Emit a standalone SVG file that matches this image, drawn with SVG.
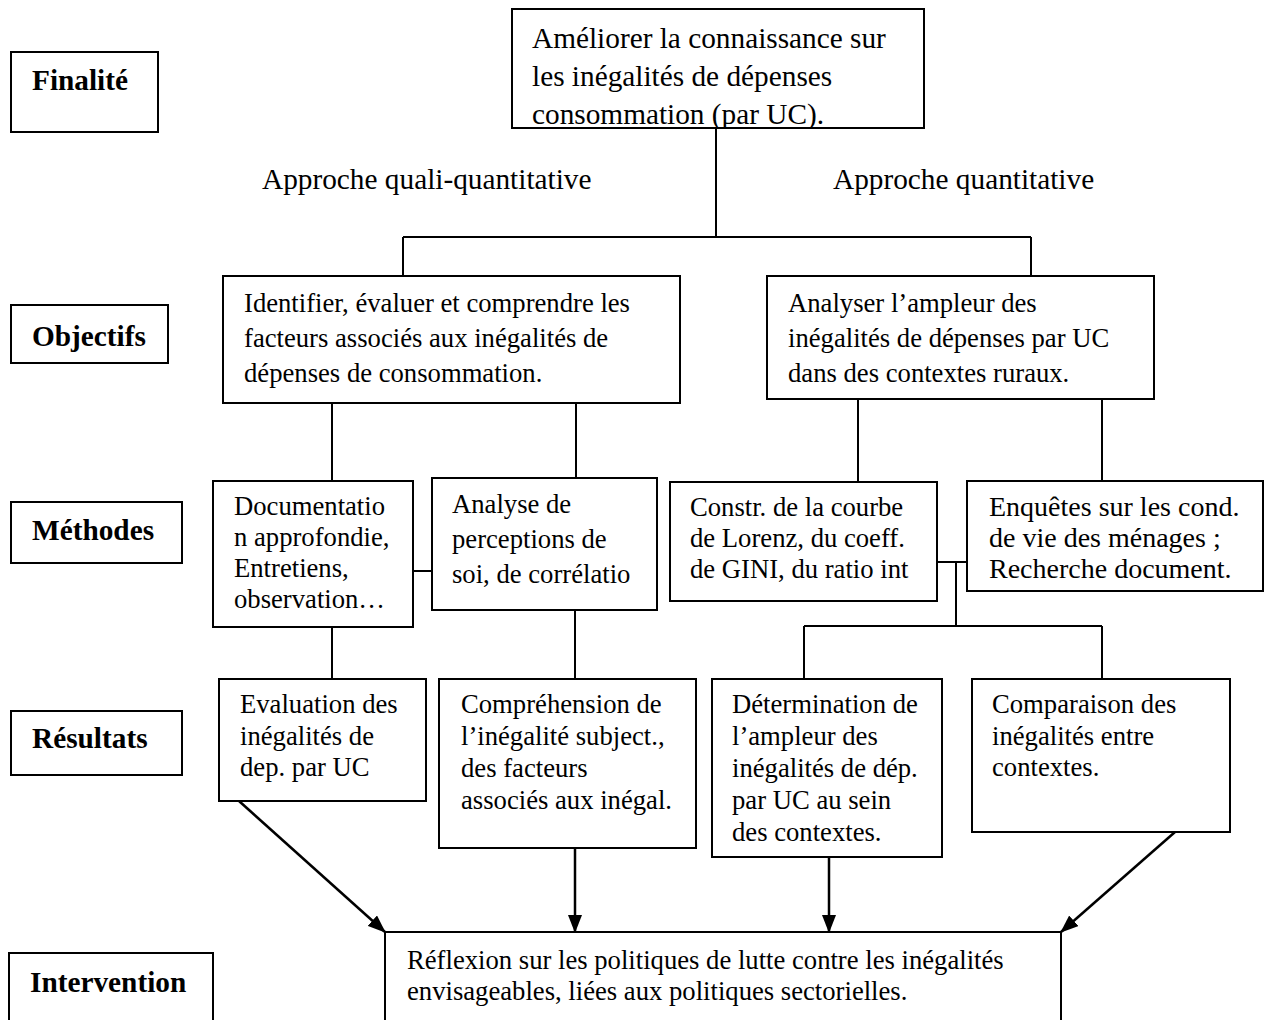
<svg xmlns="http://www.w3.org/2000/svg" width="1264" height="1020" viewBox="0 0 1264 1020">
<style>
  .box { fill: #fff; stroke: #000; stroke-width: 2; }
  .lbl { font-family: "Liberation Serif", "Times New Roman", serif; font-weight: bold; font-size: 29.3px; fill: #000; }
  .t { font-family: "Liberation Serif", "Times New Roman", serif; font-size: 26.67px; fill: #000; }
  .tl { font-family: "Liberation Serif", "Times New Roman", serif; font-size: 29.3px; fill: #000; }
  .c { fill: none; stroke: #000; stroke-width: 2; }
  .a { fill: none; stroke: #000; stroke-width: 2.5; marker-end: url(#ah); }
</style>
<defs>
  <marker id="ah" markerUnits="userSpaceOnUse" markerWidth="18" markerHeight="14" refX="17" refY="7" orient="auto">
    <path d="M0,0 L18,7 L0,14 z" fill="#000"/>
  </marker>
  <clipPath id="clipTop"><rect x="512" y="9" width="412" height="119"/></clipPath>
</defs>
<rect width="1264" height="1020" fill="#fff"/>

<!-- connectors -->
<g id="connectors">
  <path class="c" d="M716,128 V237 M403,237 H1031 M403,237 V276 M1031,237 V276"/>
  <path class="c" d="M332,403 V481 M576,403 V478 M413,571 H432 M332,627 V679 M575,610 V679"/>
  <path class="c" d="M858,399 V482 M1102,399 V481 M937,562 H967 M956,562 V626 M804,626 H1102 M804,626 V679 M1102,626 V679"/>
  <path class="a" d="M239,801 L385,932"/>
  <path class="a" d="M575,848 V932"/>
  <path class="a" d="M829,857 V932"/>
  <path class="a" d="M1175,832 L1061,932"/>
</g>

<!-- level labels -->
<g id="lbl-finalite">
  <rect class="box" x="11" y="52" width="147" height="80"/>
  <text class="lbl" x="32" y="90">Finalité</text>
</g>
<g id="lbl-objectifs">
  <rect class="box" x="11" y="305" width="157" height="58"/>
  <text class="lbl" x="32" y="346">Objectifs</text>
</g>
<g id="lbl-methodes">
  <rect class="box" x="11" y="502" width="171" height="61"/>
  <text class="lbl" x="32" y="540">Méthodes</text>
</g>
<g id="lbl-resultats">
  <rect class="box" x="11" y="711" width="171" height="64"/>
  <text class="lbl" x="32" y="748">Résultats</text>
</g>
<g id="lbl-intervention">
  <rect class="box" x="9" y="953" width="204" height="80"/>
  <text class="lbl" x="30" y="992">Intervention</text>
</g>

<!-- approach labels -->
<g id="approche-ql">
  <text class="tl" x="262" y="189">Approche quali-quantitative</text>
</g>
<g id="approche-qt">
  <text class="tl" x="833" y="189">Approche quantitative</text>
</g>

<!-- finalité -->
<g id="n-finalite">
  <rect class="box" x="512" y="9" width="412" height="119"/>
  <g clip-path="url(#clipTop)">
    <text class="tl" x="532" y="48">Améliorer la connaissance sur</text>
    <text class="tl" x="532" y="86">les inégalités de dépenses</text>
    <text class="tl" x="532" y="124">consommation (par UC).</text>
  </g>
</g>

<!-- objectifs -->
<g id="n-obj-ql">
  <rect class="box" x="223" y="276" width="457" height="127"/>
  <text class="t" x="244" y="312">Identifier, évaluer et comprendre les</text>
  <text class="t" x="244" y="347">facteurs associés aux inégalités de</text>
  <text class="t" x="244" y="382">dépenses de consommation.</text>
</g>
<g id="n-obj-qt">
  <rect class="box" x="767" y="276" width="387" height="123"/>
  <text class="t" x="788" y="312">Analyser l’ampleur des</text>
  <text class="t" x="788" y="347">inégalités de dépenses par UC</text>
  <text class="t" x="788" y="382">dans des contextes ruraux.</text>
</g>

<!-- méthodes -->
<g id="n-doc">
  <rect class="box" x="213" y="481" width="200" height="146"/>
  <text class="t" x="234" y="515">Documentatio</text>
  <text class="t" x="234" y="546">n approfondie,</text>
  <text class="t" x="234" y="577">Entretiens,</text>
  <text class="t" x="234" y="608">observation…</text>
</g>
<g id="n-analyse">
  <rect class="box" x="432" y="478" width="225" height="132"/>
  <text class="t" x="452" y="513">Analyse de</text>
  <text class="t" x="452" y="548">perceptions de</text>
  <text class="t" x="452" y="583">soi, de corrélatio</text>
</g>
<g id="n-constr">
  <rect class="box" x="670" y="482" width="267" height="119"/>
  <text class="t" x="690" y="516">Constr. de la courbe</text>
  <text class="t" x="690" y="547">de Lorenz, du coeff.</text>
  <text class="t" x="690" y="578">de GINI, du ratio int</text>
</g>
<g id="n-enquetes">
  <rect class="box" x="967" y="481" width="296" height="110"/>
  <text class="t" x="989" y="516" style="font-size:28px">Enquêtes sur les cond.</text>
  <text class="t" x="989" y="547" style="font-size:28px">de vie des ménages ;</text>
  <text class="t" x="989" y="578" style="font-size:28px">Recherche document.</text>
</g>

<!-- résultats -->
<g id="n-eval">
  <rect class="box" x="219" y="679" width="207" height="122"/>
  <text class="t" x="240" y="713">Evaluation des</text>
  <text class="t" x="240" y="745">inégalités de</text>
  <text class="t" x="240" y="776">dep. par UC</text>
</g>
<g id="n-compr">
  <rect class="box" x="439" y="679" width="257" height="169"/>
  <text class="t" x="461" y="713">Compréhension de</text>
  <text class="t" x="461" y="745">l’inégalité subject.,</text>
  <text class="t" x="461" y="777">des facteurs</text>
  <text class="t" x="461" y="809">associés aux inégal.</text>
</g>
<g id="n-determ">
  <rect class="box" x="712" y="679" width="230" height="178"/>
  <text class="t" x="732" y="713">Détermination de</text>
  <text class="t" x="732" y="745">l’ampleur des</text>
  <text class="t" x="732" y="777">inégalités de dép.</text>
  <text class="t" x="732" y="809">par UC au sein</text>
  <text class="t" x="732" y="841">des contextes.</text>
</g>
<g id="n-compar">
  <rect class="box" x="972" y="679" width="258" height="153"/>
  <text class="t" x="992" y="713">Comparaison des</text>
  <text class="t" x="992" y="745">inégalités entre</text>
  <text class="t" x="992" y="776">contextes.</text>
</g>

<!-- intervention -->
<g id="n-reflexion">
  <rect class="box" x="385" y="932" width="676" height="100"/>
  <text class="t" x="407" y="969">Réflexion sur les politiques de lutte contre les inégalités</text>
  <text class="t" x="407" y="1000">envisageables, liées aux politiques sectorielles.</text>
</g>
</svg>
